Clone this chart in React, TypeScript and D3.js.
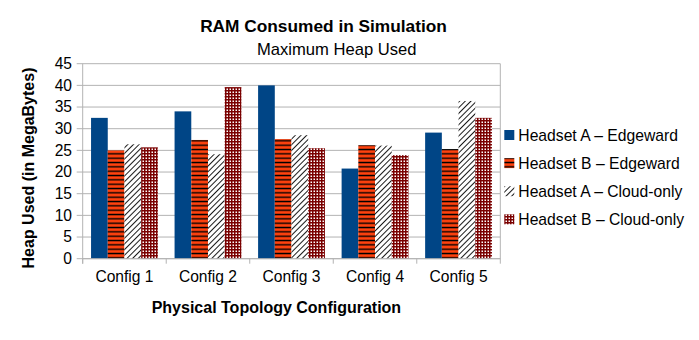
import React from "react";
import * as d3 from "d3";

const categories = ["Config 1", "Config 2", "Config 3", "Config 4", "Config 5"];
const seriesNames = [
  "Headset A – Edgeward",
  "Headset B – Edgeward",
  "Headset A – Cloud-only",
  "Headset B – Cloud-only",
];
const headsetAEdge = [32.5, 34.0, 40.0, 20.8, 29.1];
const headsetBEdge = [25.0, 27.4, 27.6, 26.2, 25.3];
const headsetACloud = [26.4, 24.1, 28.5, 26.1, 36.4];
const headsetBCloud = [25.7, 39.6, 25.5, 23.9, 32.5];
const yTicks = [0, 5, 10, 15, 20, 25, 30, 35, 40, 45];

const seriesValues = [headsetAEdge, headsetBEdge, headsetACloud, headsetBCloud];
const fills = ["#004586", "url(#patB)", "url(#patC)", "url(#patD)"];

const FONT = "'Liberation Sans', Arial, sans-serif";
const GRID = "#b3b3b3";

export default function App() {
  const left = 82.7;
  const right = 500.3;
  const top = 63.7;
  const bottom = 258.7;

  const x = d3.scaleBand<string>().domain(categories).range([left, right]).paddingInner(0.2).paddingOuter(0.1);
  const xs = d3.scaleBand<number>().domain([0, 1, 2, 3]).range([0, x.bandwidth()]);
  const y = d3.scaleLinear().domain([0, 45]).range([bottom, top]);
  const step = x.step();

  return (
    <svg width={699} height={340} style={{ position: "absolute", left: 0, top: 0, background: "#fff" }} fontFamily={FONT}>
      <defs>
        <pattern id="patB" patternUnits="userSpaceOnUse" width={10} height={4.333}>
          <rect width={10} height={4.333} fill="#ff420e" />
          <rect y={1.5} width={10} height={1.4} fill="#000" />
        </pattern>
        <pattern id="patC" patternUnits="userSpaceOnUse" width={4} height={10} patternTransform="rotate(45)">
          <rect width={4} height={10} fill="#fff" />
          <line x1={0.5} y1={0} x2={0.5} y2={10} stroke="#000" strokeWidth={0.9} />
        </pattern>
        <pattern id="patD" patternUnits="userSpaceOnUse" width={3} height={3}>
          <rect width={3} height={3} fill="#fff" />
          <rect x={0} y={0} width={1.5} height={3} fill="#7a0000" />
          <rect x={0} y={0} width={3} height={1.5} fill="#7a0000" />
        </pattern>
      </defs>

      {/* titles */}
      <text x={323.5} y={32} textAnchor="middle" fontSize={17.3} fontWeight="bold" fill="#000">
        RAM Consumed in Simulation
      </text>
      <text x={336.7} y={55} textAnchor="middle" fontSize={16.6} fill="#000">
        Maximum Heap Used
      </text>

      {/* gridlines */}
      {yTicks.map((t) => (
        <line key={"g" + t} x1={left - 6} x2={right} y1={y(t)} y2={y(t)} stroke={GRID} strokeWidth={1} />
      ))}
      {yTicks.map((t) => (
        <text key={"yl" + t} x={72} y={y(t)} dy="0.35em" textAnchor="end" fontSize={15.6} fill="#000">
          {t}
        </text>
      ))}

      {/* bars */}
      {categories.map((c, ci) => (
        <g key={c}>
          {seriesValues.map((vals, si) => (
            <rect
              key={si}
              x={(x(c) as number) + (xs(si) as number)}
              y={y(vals[ci])}
              width={xs.bandwidth()}
              height={bottom - y(vals[ci])}
              fill={fills[si]}
            />
          ))}
        </g>
      ))}

      {/* axes */}
      <line x1={left} x2={left} y1={top} y2={bottom + 5} stroke={GRID} strokeWidth={1} />
      <line x1={right} x2={right} y1={top} y2={bottom + 5} stroke={GRID} strokeWidth={1} />
      <line x1={left} x2={right} y1={bottom} y2={bottom} stroke={GRID} strokeWidth={1} />
      {categories.map((c, i) => (
        <line key={"t" + c} x1={left + i * step} x2={left + i * step} y1={bottom} y2={bottom + 5} stroke={GRID} strokeWidth={1} />
      ))}
      {categories.map((c) => (
        <text key={"xl" + c} x={(x(c) as number) + x.bandwidth() / 2} y={282.3} textAnchor="middle" fontSize={15.6} fill="#000">
          {c}
        </text>
      ))}

      <text x={276.4} y={313.3} textAnchor="middle" fontSize={16} fontWeight="bold" fill="#000">
        Physical Topology Configuration
      </text>
      <text transform={`translate(34,${168}) rotate(-90)`} textAnchor="middle" fontSize={16} fontWeight="bold" fill="#000">
        Heap Used (in MegaBytes)
      </text>

      {/* legend */}
      {seriesNames.map((n, i) => {
        const cy = 135 + i * 28.1;
        return (
          <g key={n}>
            <rect x={504.3} y={cy - 5} width={10} height={10} fill={fills[i]} />
            <text x={518.3} y={cy + 5.6} fontSize={15.7} fill="#000">
              {n}
            </text>
          </g>
        );
      })}
    </svg>
  );
}
